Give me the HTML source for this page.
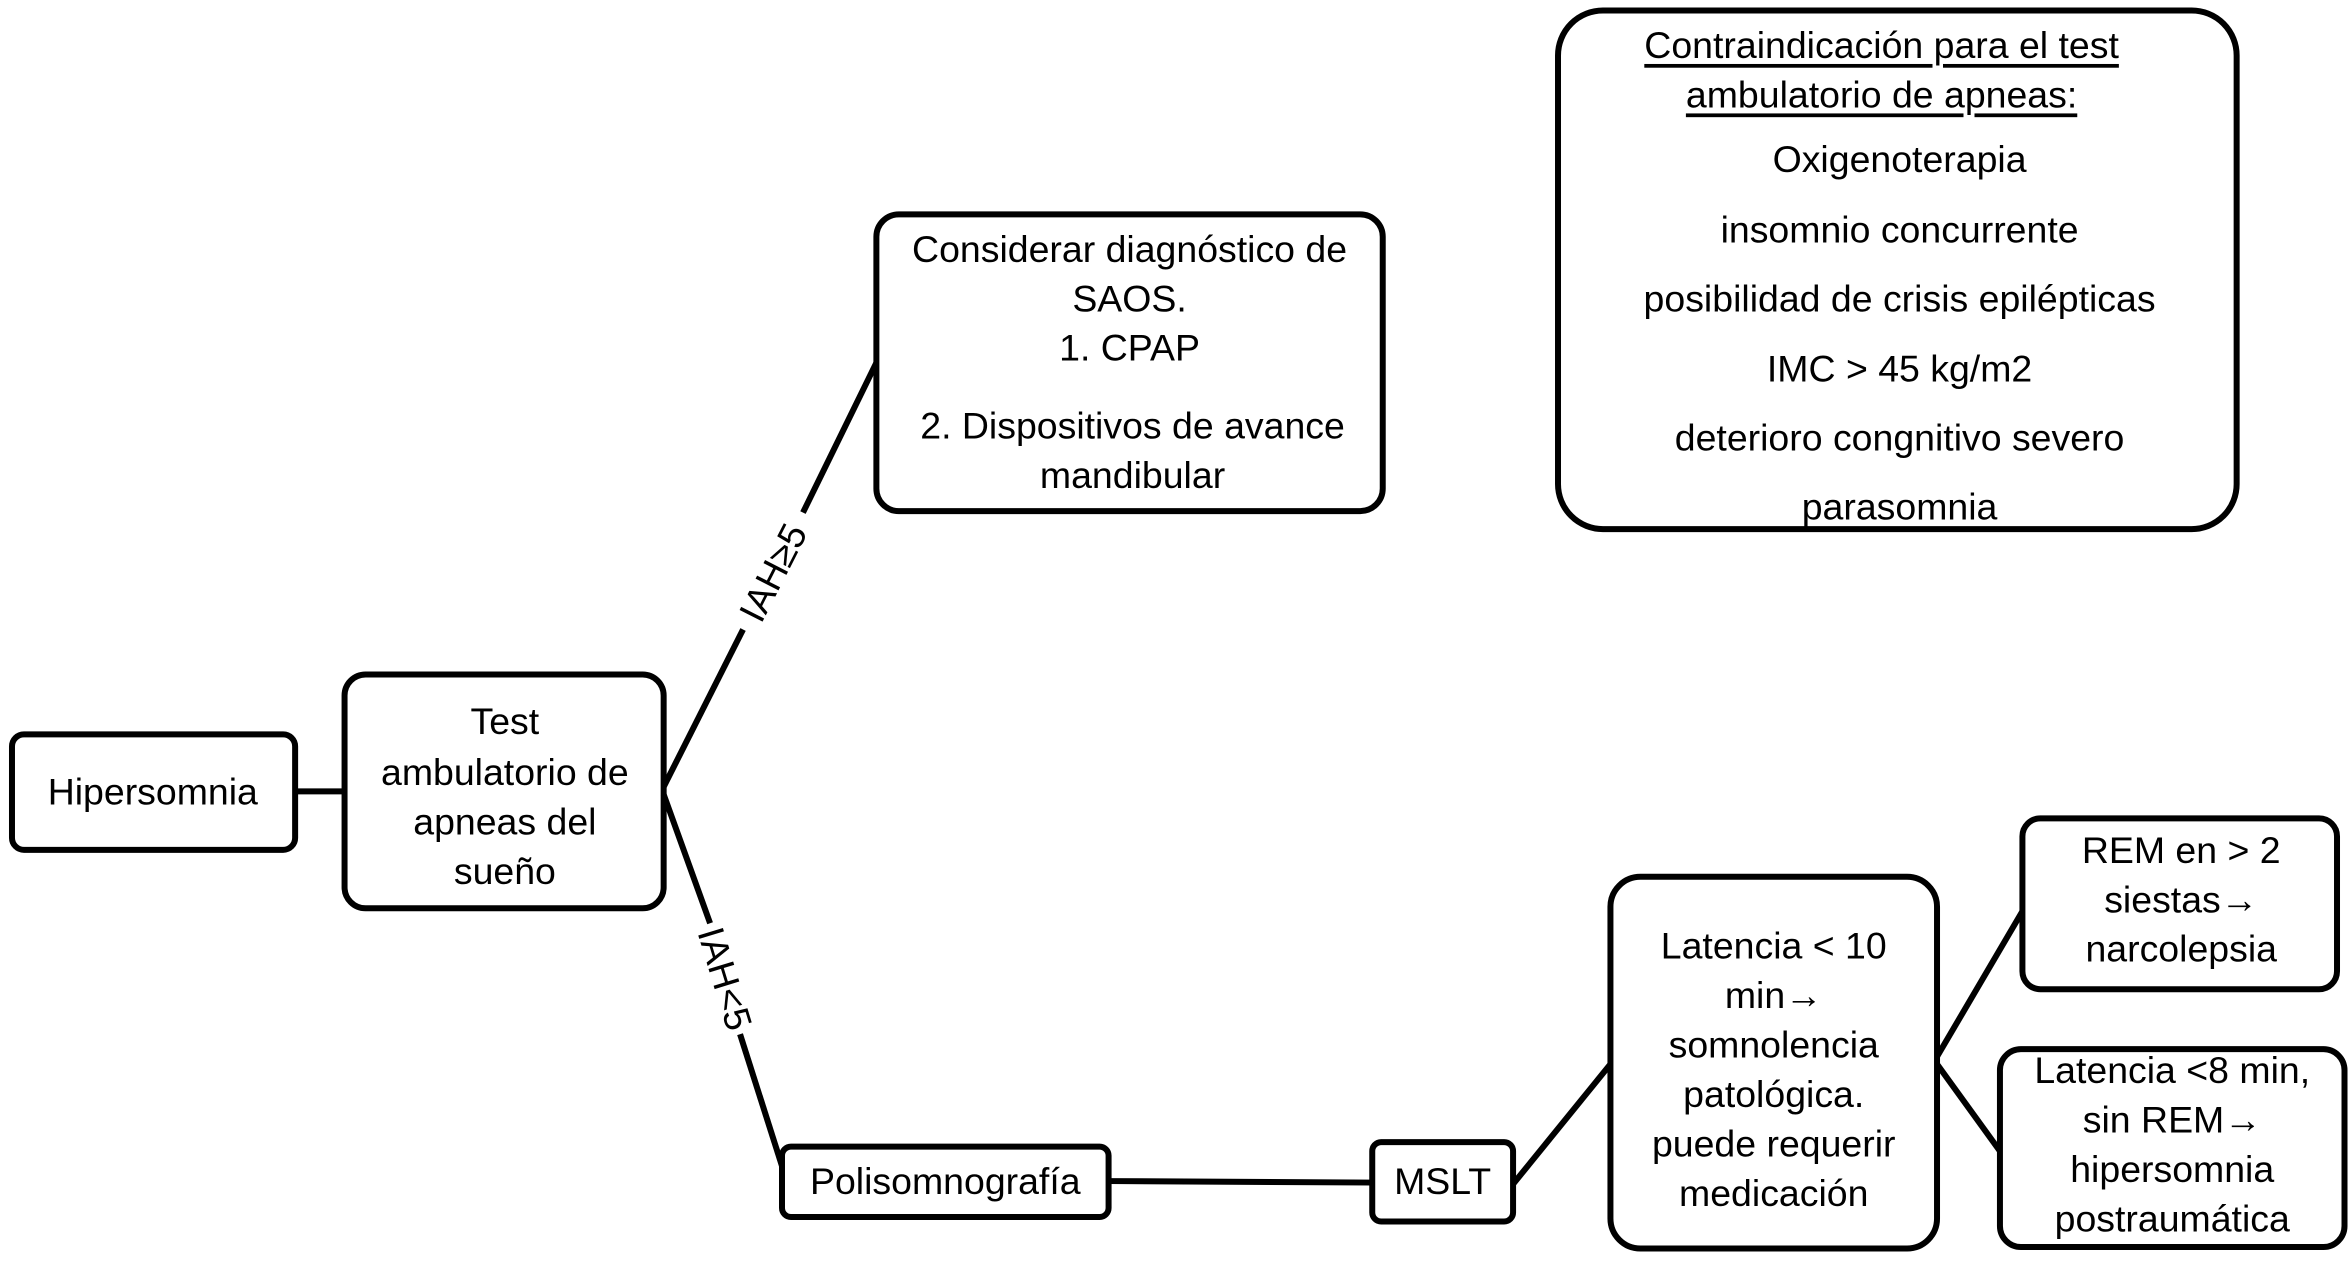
<!DOCTYPE html>
<html><head><meta charset="utf-8"><style>html,body{margin:0;padding:0;background:#fff}svg{display:block}</style></head>
<body>
<svg width="2349" height="1262" viewBox="0 0 1568 842" preserveAspectRatio="none" xmlns="http://www.w3.org/2000/svg">
<g fill="none" stroke="#000" stroke-width="4">
<line x1="197" y1="528" x2="230" y2="528"/>
<line x1="443" y1="525" x2="496" y2="420"/>
<line x1="536" y1="342" x2="585" y2="242"/>
<line x1="443" y1="530" x2="474" y2="616"/>
<line x1="494" y1="690" x2="522" y2="778"/>
<line x1="740" y1="788" x2="916" y2="789"/>
<line x1="1010" y1="790" x2="1075" y2="710"/>
<line x1="1293" y1="705" x2="1350" y2="608"/>
<line x1="1293" y1="710" x2="1335" y2="768"/>
<rect x="8" y="490" width="189" height="77" rx="8"/>
<rect x="230" y="450" width="213" height="156" rx="14"/>
<rect x="585" y="143" width="338" height="198" rx="15"/>
<rect x="1040" y="7" width="453" height="346" rx="30"/>
<rect x="522" y="765" width="218" height="47" rx="6"/>
<rect x="916" y="762" width="94" height="53" rx="6"/>
<rect x="1075" y="585" width="218" height="248" rx="20"/>
<rect x="1350" y="546" width="210" height="114" rx="12"/>
<rect x="1335" y="700" width="230" height="132" rx="14"/>
</g>
<g font-family="Liberation Sans, Arial, sans-serif" font-size="25" text-anchor="middle" dominant-baseline="central" fill="#000">
<text x="102" y="528">Hipersomnia</text>
<text x="337" y="481">Test</text>
<text x="337" y="515">ambulatorio de</text>
<text x="337" y="548">apneas del</text>
<text x="337" y="581">sueño</text>
<text x="754" y="166">Considerar diagnóstico de</text>
<text x="754" y="199">SAOS.</text>
<text x="754" y="232">1. CPAP</text>
<text x="756" y="284">2. Dispositivos de avance</text>
<text x="756" y="317">mandibular</text>
<text x="1256" y="30" text-decoration="underline">Contraindicación para el test</text>
<text x="1256" y="63" text-decoration="underline">ambulatorio de apneas:</text>
<text x="1268" y="106">Oxigenoterapia</text>
<text x="1268" y="153">insomnio concurrente</text>
<text x="1268" y="199">posibilidad de crisis epilépticas</text>
<text x="1268" y="246">IMC &gt; 45 kg/m2</text>
<text x="1268" y="292">deterioro congnitivo severo</text>
<text x="1268" y="338">parasomnia</text>
<text x="631" y="788">Polisomnografía</text>
<text x="963" y="788">MSLT</text>
<text x="1184" y="631">Latencia &lt; 10</text>
<text x="1184" y="664">min→</text>
<text x="1184" y="697">somnolencia</text>
<text x="1184" y="730">patológica.</text>
<text x="1184" y="763">puede requerir</text>
<text x="1184" y="796">medicación</text>
<text x="1456" y="567">REM en &gt; 2</text>
<text x="1456" y="600">siestas→</text>
<text x="1456" y="633">narcolepsia</text>
<text x="1450" y="714">Latencia &lt;8 min,</text>
<text x="1450" y="747">sin REM→</text>
<text x="1450" y="780">hipersomnia</text>
<text x="1450" y="813">postraumática</text>
<text x="516" y="382" transform="rotate(-63 516 382)">IAH≥5</text>
<text x="484" y="653" transform="rotate(73 484 653)">IAH&lt;5</text>
</g>
</svg>
</body></html>
